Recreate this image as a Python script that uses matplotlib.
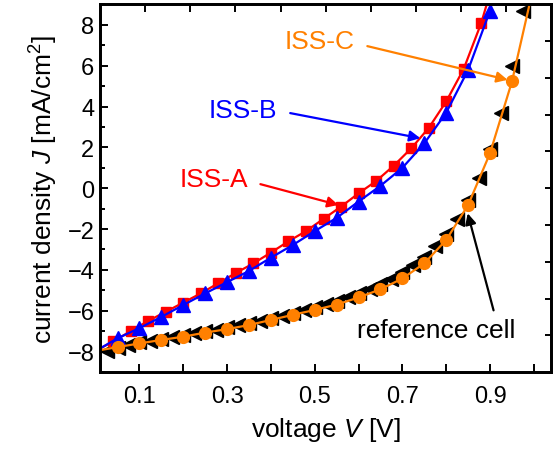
import numpy as np
import matplotlib
matplotlib.use("Agg")
import matplotlib.pyplot as plt

plt.rcParams['font.family'] = ['Liberation Sans', 'DejaVu Sans']
plt.rcParams['mathtext.fontset'] = 'custom'
plt.rcParams['mathtext.rm'] = 'Liberation Sans'
plt.rcParams['mathtext.it'] = 'Liberation Sans:italic'

# ---- data ----
v_a = [0.04, 0.08, 0.12, 0.16, 0.20, 0.24, 0.28, 0.32, 0.36, 0.40, 0.44,
       0.48, 0.52, 0.56, 0.60, 0.64, 0.68, 0.72, 0.76, 0.80, 0.84, 0.88]
j_a = [-7.5, -7.0, -6.5, -6.05, -5.6, -5.15, -4.65, -4.15, -3.68, -3.15, -2.6,
       -2.1, -1.5, -0.9, -0.25, 0.35, 1.1, 1.95, 2.95, 4.25, 5.85, 8.1]

v_b = [0.05, 0.10, 0.15, 0.20, 0.25, 0.30, 0.35, 0.40, 0.45, 0.50, 0.55,
       0.60, 0.65, 0.70, 0.75, 0.80, 0.85, 0.90]
j_b = [-7.35, -6.85, -6.3, -5.72, -5.15, -4.6, -4.05, -3.4, -2.78, -2.1, -1.45,
       -0.65, 0.12, 1.0, 2.2, 3.7, 5.8, 8.7]

v_c = [0.05, 0.10, 0.15, 0.20, 0.25, 0.30, 0.35, 0.40, 0.45, 0.50, 0.55,
       0.60, 0.65, 0.70, 0.75, 0.80, 0.85, 0.90, 0.95]
j_c = [-7.78, -7.6, -7.43, -7.27, -7.07, -6.9, -6.7, -6.45, -6.2, -5.96, -5.7,
       -5.35, -4.95, -4.42, -3.68, -2.53, -0.82, 1.72, 5.23]

v_ref = [0.025, 0.05, 0.075, 0.10, 0.125, 0.15, 0.175, 0.20, 0.225, 0.25,
         0.275, 0.30, 0.325, 0.35, 0.375, 0.40, 0.425, 0.45, 0.475, 0.50,
         0.525, 0.55, 0.575, 0.60, 0.625, 0.65, 0.675, 0.70, 0.725, 0.75,
         0.775, 0.80, 0.825, 0.85, 0.875, 0.90, 0.925, 0.95, 0.975]
j_ref = [-7.95, -7.8, -7.7, -7.55, -7.48, -7.38, -7.3, -7.2, -7.1, -7.0,
         -6.92, -6.82, -6.72, -6.6, -6.5, -6.37, -6.24, -6.1, -5.97, -5.83,
         -5.68, -5.52, -5.35, -5.15, -4.93, -4.7, -4.43, -4.12, -3.77, -3.35,
         -2.85, -2.25, -1.5, -0.6, 0.5, 1.9, 3.7, 6.0, 8.7]

# fitted-curve end points (where lines meet the frame)
line_start = {'A': (0.01, -7.85), 'B': (0.01, -7.85), 'C': (0.01, -7.93)}
line_end = {'A': (0.895, 9.2), 'B': (0.905, 9.2), 'C': (0.99, 9.0)}

x_ticks = [0.1, 0.2, 0.3, 0.4, 0.5, 0.6, 0.7, 0.8, 0.9, 1.0]
x_ticklabels = ['0.1', '', '0.3', '', '0.5', '', '0.7', '', '0.9', '']
y_ticks = [-8, -6, -4, -2, 0, 2, 4, 6, 8]

RED = '#ff0000'
BLUE = '#0000ff'
ORANGE = '#ff8000'

fig = plt.figure(figsize=(5.58, 4.56), dpi=100)
ax = fig.add_axes([0.1792, 0.182, 0.809, 0.806])

def line_xy(key, v, j):
    xs = [line_start[key][0]] + list(v) + [line_end[key][0]]
    ys = [line_start[key][1]] + list(j) + [line_end[key][1]]
    return xs, ys

ax.plot(v_ref, j_ref, linestyle='none', marker='<', ms=9.5, color='black', zorder=2)

xs, ys = line_xy('A', v_a, j_a)
ax.plot(xs, ys, color=RED, lw=1.6, zorder=3)
ax.plot(v_a, j_a, linestyle='none', marker='s', ms=7.5, color=RED, zorder=3)

xs, ys = line_xy('B', v_b, j_b)
ax.plot(xs, ys, color=BLUE, lw=1.6, zorder=4)
ax.plot(v_b, j_b, linestyle='none', marker='^', ms=9.5, color=BLUE, zorder=4)

xs, ys = line_xy('C', v_c, j_c)
ax.plot(xs, ys, color=ORANGE, lw=1.6, zorder=5)
ax.plot(v_c, j_c, linestyle='none', marker='o', ms=8.5, color=ORANGE, zorder=5)

ax.set_xlim(0.01, 1.04)
ax.set_ylim(-9, 9)
ax.set_xticks(x_ticks)
ax.set_xticklabels(x_ticklabels)
ax.set_yticks(y_ticks)
ax.set_yticks(np.arange(-9, 10, 1), minor=True)
ax.tick_params(axis='x', which='major', direction='in', length=6, width=1.4,
               labelsize=17, pad=9, top=False)
ax.tick_params(axis='y', which='major', direction='in', length=5.5, width=1.4,
               labelsize=17, pad=4, right=False)
ax.tick_params(axis='y', which='minor', direction='in', length=3.5, width=1.4, right=False)
for s in ax.spines.values():
    s.set_linewidth(1.8)

ax.set_xlabel('voltage $V$ [V]', fontsize=19, labelpad=6)
ax.set_ylabel(r'current density $J$ [mA/cm$^2$]', fontsize=19, labelpad=5)

# unlabeled top / right scales
axt = ax.twiny()
axt.set_xlim(0, 1)
axt.set_xticks(np.arange(1, 10) / 10)
axt.tick_params(axis='x', direction='in', length=6, width=1.4, labeltop=False)
axr = ax.twinx()
axr.set_ylim(0, 1)
axr.set_yticks(np.arange(1, 10) / 10)
axr.tick_params(axis='y', direction='in', length=4, width=1.4, labelright=False)
for a in (axt, axr):
    for s in a.spines.values():
        s.set_linewidth(1.8)

def arrow(tail, tip, color):
    ax.annotate('', xy=tip, xytext=tail,
                arrowprops=dict(arrowstyle='-|>', color=color, lw=1.6,
                                mutation_scale=16, shrinkA=0, shrinkB=0),
                zorder=6)

ax.text(0.5105, 7.2, 'ISS-C', color=ORANGE, fontsize=19, ha='center', va='center')
arrow((0.620, 6.96), (0.940, 5.31), ORANGE)
ax.text(0.335, 3.82, 'ISS-B', color=BLUE, fontsize=19, ha='center', va='center')
arrow((0.444, 3.68), (0.741, 2.45), BLUE)
ax.text(0.271, 0.44, 'ISS-A', color=RED, fontsize=19, ha='center', va='center')
arrow((0.376, 0.2), (0.554, -0.82), RED)
ax.text(0.778, -6.96, 'reference cell', color='black', fontsize=19, ha='center', va='center')
arrow((0.908, -5.98), (0.849, -1.23), 'black')

fig.savefig('out.png', dpi=100)
